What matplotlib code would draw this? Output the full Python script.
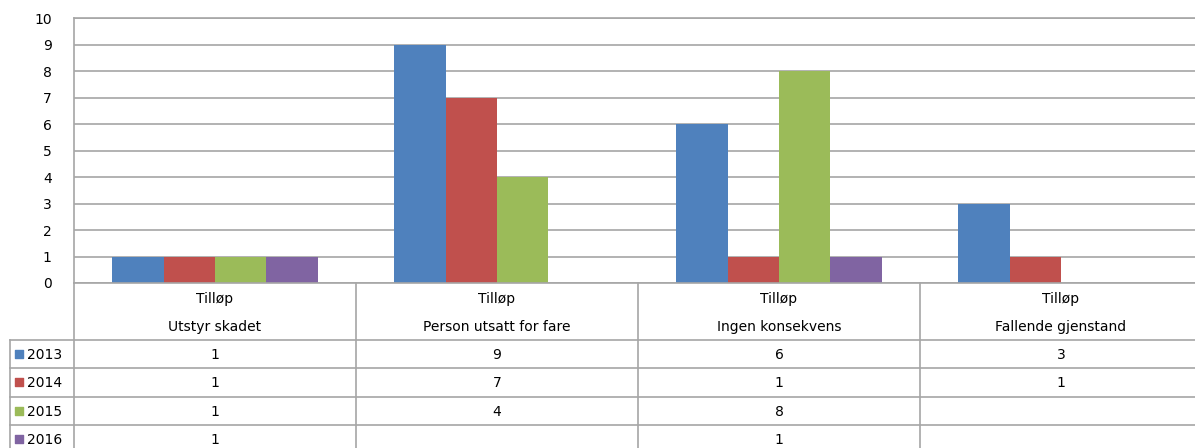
import numpy as np
import matplotlib.pyplot as plt

categories = ["Utstyr skadet", "Person utsatt for fare", "Ingen konsekvens", "Fallende gjenstand"]
group_label = "Tilløp"
years = ["2013", "2014", "2015", "2016"]
v2013 = [1, 9, 6, 3]
v2014 = [1, 7, 1, 1]
v2015 = [1, 4, 8, None]
v2016 = [1, None, 1, None]
series = [v2013, v2014, v2015, v2016]
colors = ["#4F81BD", "#C0504D", "#9BBB59", "#8064A2"]

plt.rcParams['font.family'] = ['DejaVu Sans']
W, H = 1195, 448
fig = plt.figure(figsize=(W / 100, H / 100), dpi=100)

# plot area in pixels: x 74..1202 (runs past the right edge), y 18..283
x0, x1 = 74, 1202
ytop, ybot = 18, 283
ax = fig.add_axes([x0 / W, (H - ybot) / H, (x1 - x0) / W, (ybot - ytop) / H])
grid_col = "#A6A6A6"

x = np.arange(len(categories))
bw = 0.182
for i, (vals, c) in enumerate(zip(series, colors)):
    v = np.array([np.nan if a is None else a for a in vals], dtype=float)
    ax.bar(x + (i - 1.5) * bw, v, width=bw, color=c, zorder=3)

ax.set_xlim(-0.5, len(categories) - 0.5)
ax.set_ylim(0, 10)
ax.set_yticks(range(0, 11))
ax.set_xticks([])
ax.grid(axis='y', color=grid_col, linewidth=1.2, zorder=0)
for s in ['right', 'bottom']:
    ax.spines[s].set_visible(False)
for s in ['left', 'top']:
    ax.spines[s].set_color(grid_col)
    ax.spines[s].set_linewidth(1.2)
ax.tick_params(axis='y', length=0, pad=16, labelsize=10, labelcolor="#000000")

# data table below the plot, sharing category x units
leg_left = -0.5 - (x0 - 10) / (x1 - x0) * len(categories)
tab = fig.add_axes([10 / W, 0, (x1 - 10) / W, (H - ybot) / H])
tab.set_xlim(leg_left, len(categories) - 0.5)
tab.set_ylim(H, ybot)
tab.axis('off')

row_lines = [340, 368, 397, 425]
bottom = H + 5
kw = dict(color=grid_col, linewidth=1.2, clip_on=False)
tab.plot([-0.5, len(categories) - 0.5], [ybot, ybot], **kw)
for k in range(len(categories)):
    tab.plot([k - 0.5, k - 0.5], [ybot, bottom], **kw)
tab.plot([leg_left, leg_left], [row_lines[0], bottom], **kw)
for yl in row_lines:
    tab.plot([leg_left, len(categories) - 0.5], [yl, yl], **kw)

fs = 10
for k, cat in enumerate(categories):
    tab.text(k, 303, group_label, ha='center', va='baseline', fontsize=fs)
    tab.text(k, 331, cat, ha='center', va='baseline', fontsize=fs)

row_mid = [354, 382, 411, 439]
for r, (yr, vals, c) in enumerate(zip(years, series, colors)):
    ym = row_mid[r]
    tab.scatter([leg_left + 0.033], [ym], marker='s', s=36, color=c, clip_on=False)
    tab.text(leg_left + 0.062, ym + 5, yr, ha='left', va='baseline', fontsize=fs)
    for k, v in enumerate(vals):
        if v is not None:
            tab.text(k, ym + 5, str(v), ha='center', va='baseline', fontsize=fs)

fig.savefig("out.png", dpi=100)
